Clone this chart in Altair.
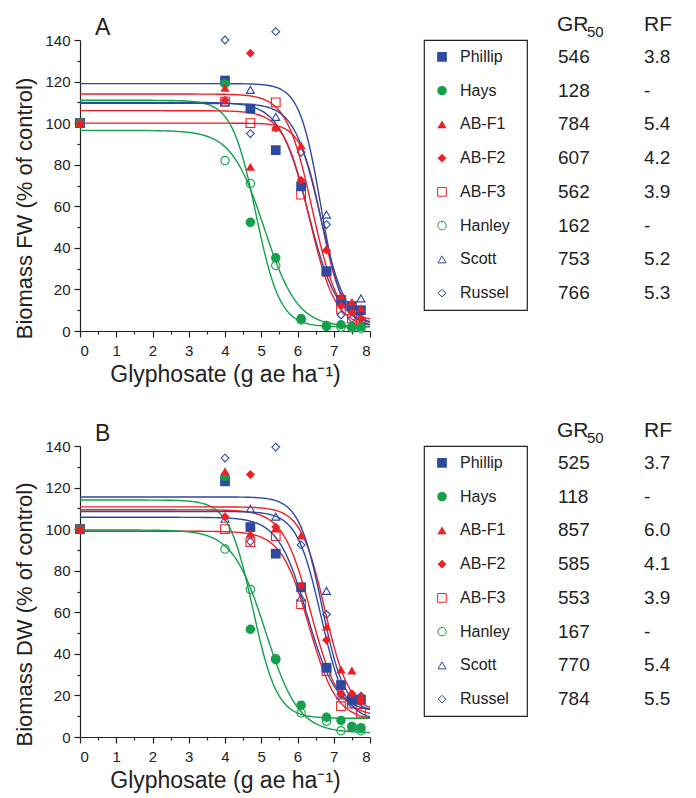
import altair as alt
import pandas as pd

BLUE = "#2E4A9F"
RED = "#EC2027"
GREEN = "#12A04A"
FONT = "Liberation Sans"

# ---- categories / styles ----
series = ["Phillip", "Hays", "AB-F1", "AB-F2", "AB-F3", "Hanley", "Scott", "Russel"]
colors = [BLUE, GREEN, RED, RED, RED, GREEN, BLUE, BLUE]
shapes = ["square", "circle", "triangle-up", "diamond", "square", "circle", "triangle-up", "diamond"]
filled = [True, True, True, True, False, False, False, False]
sizes = [95, 60, 85, 80, 85, 55, 85, 70]
legend_sizes = [38, 28, 34, 32, 34, 24, 32, 28]

# log-dose positions (x)
log_dose = [0, 4.0, 4.7, 5.4, 6.1, 6.8, 7.2, 7.5, 7.75]

# ---- Panel A: Biomass FW (% of control) ----
fw_Phillip = [100, 120.5, 107, 87, 69.6, 28.8, 15, 12, 10]
fw_Hays = [100, 119, 52.3, 35.2, 6, 2.6, 3, 2, 2]
fw_ABF1 = [100, 117, 79, 98, 89.3, 39.7, 17, 14, 11]
fw_ABF2 = [100, 111, 133.6, 97.6, 72.5, 38.9, 12, 9, 6]
fw_ABF3 = [100, 110.4, 100, 110, 65.6, 28.5, 10.5, 6, 4]
fw_Hanley = [100, 82, 71, 31.5, 5.3, 2.2, 1.8, 1.5, 1.2]
fw_Scott = [100, 110, 116, 103, 70, 56, 14.5, 3, 15.7]
fw_Russel = [100, 140, 95, 144, 86, 51.2, 7.7, 6, 6]

gr50_fw = [546, 128, 784, 607, 562, 162, 753, 766]
rf_fw = ["3.8", "-", "5.4", "4.2", "3.9", "-", "5.2", "5.3"]
upper_fw = [110, 111, 100, 114, 106, 96.5, 109.5, 119]
lower_fw = [3, 2, 5, 3, 2, 2, 2, 2]
slope_fw = [2.5, 3.0, 3.5, 2.8, 2.8, 2.2, 2.8, 3.4]

# ---- Panel B: Biomass DW (% of control) ----
dw_Phillip = [100, 123, 101, 88.2, 72, 33.3, 25, 18, 18]
dw_Hays = [100, 125.4, 51.8, 37.2, 15.3, 9.5, 8, 5, 4.5]
dw_ABF1 = [100, 127.8, 98, 100.5, 96.9, 53.1, 32.5, 32, 20]
dw_ABF2 = [100, 106, 126.3, 101, 72.7, 46.7, 21, 20.8, 17]
dw_ABF3 = [100, 100, 93.7, 96.6, 63.9, 31.7, 14.8, 16, 11.6]
dw_Hanley = [100, 90.4, 71, 37.7, 11.6, 7.6, 3, 5, 3]
dw_Scott = [100, 105, 109.8, 106, 67.1, 70.3, 20, 5, 18]
dw_Russel = [100, 134.2, 94, 139.5, 92.4, 59, 20.5, 15.8, 19.7]

gr50_dw = [525, 118, 857, 585, 553, 167, 770, 784]
rf_dw = ["3.7", "-", "6.0", "4.1", "3.9", "-", "5.4", "5.5"]
upper_dw = [105.7, 114, 110.7, 109.3, 99, 99.6, 108.5, 115.5]
lower_dw = [12, 9, 12, 10, 8, 2, 8, 12]
slope_dw = [2.5, 3.0, 3.0, 2.6, 2.6, 2.2, 3.0, 3.2]

fw_values = [fw_Phillip, fw_Hays, fw_ABF1, fw_ABF2, fw_ABF3, fw_Hanley, fw_Scott, fw_Russel]
dw_values = [dw_Phillip, dw_Hays, dw_ABF1, dw_ABF2, dw_ABF3, dw_Hanley, dw_Scott, dw_Russel]

color_scale = alt.Scale(domain=series, range=colors)
shape_scale = alt.Scale(domain=series, range=shapes)
size_scale = alt.Scale(domain=series, range=sizes)
lsize_scale = alt.Scale(domain=series, range=legend_sizes)

x_ticks = [i * 0.5 for i in range(17)]
y_ticks = list(range(0, 141, 10))


def panel(letter, values, gr50, rf, upper, lower, slope, ytitle):
    rows = []
    for s, f, vals in zip(series, filled, values):
        for xv, yv in zip(log_dose, vals):
            rows.append({"series": s, "x": xv, "y": yv, "filled": f})
    pts = pd.DataFrame(rows)
    meta = pd.DataFrame({
        "series": series, "filled": filled, "gr50": gr50, "rf": rf,
        "upper": upper, "lower": lower, "slope": slope,
    })

    xscale = alt.Scale(domain=[0, 8], nice=False)
    yscale = alt.Scale(domain=[0, 140], nice=False)
    xaxis = alt.Axis(values=x_ticks, title="Glyphosate (g ae ha⁻¹)",
                     labelExpr="datum.value % 1 === 0 ? '' + datum.value : ''",
                     tickSize={"condition": {"test": "datum.value % 1 === 0", "value": 6}, "value": 3},
                     labelOverlap=False, labelPadding=6, titlePadding=5,
                     titleFontSize=23)
    yaxis = alt.Axis(values=y_ticks, title=ytitle,
                     labelExpr="datum.value % 20 === 0 ? '' + datum.value : ''",
                     tickSize={"condition": {"test": "datum.value % 20 === 0", "value": 6}, "value": 3},
                     labelOverlap=False, labelPadding=4, titlePadding=8,
                     titleY=168)
    xenc = alt.X("x:Q", scale=xscale, axis=xaxis)
    yenc = alt.Y("y:Q", scale=yscale, axis=yaxis)

    curves = alt.Chart(meta).transform_calculate(
        x="sequence(0, 8.001, 0.04)"
    ).transform_flatten(["x"]).transform_calculate(
        y="datum.lower + (datum.upper - datum.lower) / (1 + exp(datum.slope * (datum.x - log(datum.gr50))))"
    ).mark_line(strokeWidth=1.4).encode(
        x=xenc, y=yenc,
        color=alt.Color("series:N", scale=color_scale, legend=None),
        detail="series:N",
        order="x:Q",
    )

    base = alt.Chart(pts)
    p_open = base.transform_filter("!datum.filled").mark_point(
        filled=False, fill="white", fillOpacity=1, opacity=1, strokeWidth=1.1
    ).encode(
        x=xenc, y=yenc,
        shape=alt.Shape("series:N", scale=shape_scale, legend=None),
        color=alt.Color("series:N", scale=color_scale, legend=None),
        size=alt.Size("series:N", scale=size_scale, legend=None),
    )
    p_fill = base.transform_filter("datum.filled").mark_point(
        filled=True, opacity=1
    ).encode(
        x=xenc, y=yenc,
        shape=alt.Shape("series:N", scale=shape_scale, legend=None),
        color=alt.Color("series:N", scale=color_scale, legend=None),
        size=alt.Size("series:N", scale=size_scale, legend=None),
    )
    lab = alt.Chart(pd.DataFrame({"t": [letter]})).mark_text(
        align="left", baseline="alphabetic", fontSize=23, font=FONT, color="#222"
    ).encode(text="t:N", x=alt.value(15), y=alt.value(-5))

    plot = alt.layer(p_open, curves, p_fill, lab).properties(width=290, height=291)

    # legend box + table
    lb = alt.Chart(meta)
    yleg = alt.Y("series:N", sort=series, scale=alt.Scale(domain=series), axis=None)
    l_fill = lb.transform_filter("datum.filled").mark_point(filled=True, opacity=1).encode(
        x=alt.value(18), y=yleg,
        shape=alt.Shape("series:N", scale=shape_scale, legend=None),
        color=alt.Color("series:N", scale=color_scale, legend=None),
        size=alt.Size("series:N", scale=lsize_scale, legend=None),
    )
    l_open = lb.transform_filter("!datum.filled").mark_point(filled=False, opacity=1, strokeWidth=1).encode(
        x=alt.value(18), y=yleg,
        shape=alt.Shape("series:N", scale=shape_scale, legend=None),
        color=alt.Color("series:N", scale=color_scale, legend=None),
        size=alt.Size("series:N", scale=lsize_scale, legend=None),
    )
    names = lb.mark_text(align="left", baseline="middle", fontSize=16, font=FONT, color="#222").encode(
        x=alt.value(36), y=yleg, text="series:N")
    grt = lb.mark_text(align="left", baseline="middle", fontSize=19, font=FONT, color="#222").encode(
        x=alt.value(134), y=yleg, text="gr50:N")
    rft = lb.mark_text(align="left", baseline="middle", fontSize=19, font=FONT, color="#222").encode(
        x=alt.value(220), y=yleg, text="rf:N")
    h1 = alt.Chart(pd.DataFrame({"t": ["GR"]})).mark_text(align="left", baseline="alphabetic", fontSize=21, font=FONT, color="#222").encode(
        x=alt.value(133), y=alt.value(-9), text="t:N")
    h2 = alt.Chart(pd.DataFrame({"t": ["50"]})).mark_text(align="left", baseline="alphabetic", fontSize=15, font=FONT, color="#222").encode(
        x=alt.value(163), y=alt.value(-3), text="t:N")
    h3 = alt.Chart(pd.DataFrame({"t": ["RF"]})).mark_text(align="left", baseline="alphabetic", fontSize=21, font=FONT, color="#222").encode(
        x=alt.value(220), y=alt.value(-9), text="t:N")

    leg = alt.layer(l_fill, l_open, names, grt, rft, h1, h2, h3).properties(
        width=103, height=270,
        view=alt.ViewBackground(stroke="#222", strokeWidth=1.2),
    )
    return alt.hconcat(plot, leg, spacing=50)


rowA = panel("A", fw_values, gr50_fw, rf_fw, upper_fw, lower_fw, slope_fw, "Biomass FW (% of control)")
rowB = panel("B", dw_values, gr50_dw, rf_dw, upper_dw, lower_dw, slope_dw, "Biomass DW (% of control)")

chart = alt.vconcat(rowA, rowB, spacing=33).configure_view(stroke=None).configure_axis(
    grid=False, domainColor="#222", tickColor="#222", domainWidth=1.2, tickWidth=1.2,
    labelFont=FONT, titleFont=FONT, labelFontSize=15, titleFontSize=22,
    labelColor="#222", titleColor="#222", titleFontWeight="normal", labelOverlap=False,
)

chart.save("out.html", embed_options={"renderer": "svg", "actions": False})
